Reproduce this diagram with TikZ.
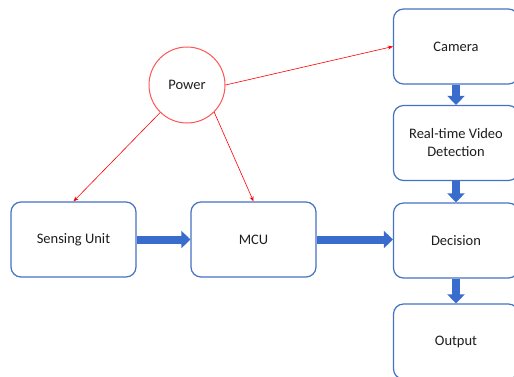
\documentclass[tikz,border=0pt]{standalone}
\usepackage{fontspec}
\setmainfont{Carlito}
\usetikzlibrary{arrows.meta}
\definecolor{boxblue}{RGB}{68,114,196}
\definecolor{arrblue}{RGB}{58,108,205}
\definecolor{pred}{RGB}{255,85,85}
\definecolor{txt}{RGB}{30,30,30}
\begin{document}
\begin{tikzpicture}[x=1pt,y=-1pt,
  font=\fontsize{14.5}{18}\selectfont,
  block/.style={draw=boxblue, line width=1.2pt, rounded corners=10pt,
    minimum width=125pt, minimum height=75pt, inner sep=0pt,
    align=center, text=txt, fill=white},
  pcircle/.style={circle, draw=pred, line width=1pt, minimum size=76pt,
    inner sep=0pt, text=txt},
  bigarrow/.style={draw=arrblue, line width=8pt,
    -{Triangle[length=9pt,width=17pt]}, shorten >=0pt},
  redarrow/.style={draw=red, line width=0.6pt,
    -{Stealth[length=5pt,width=4pt]}}]
\useasboundingbox (0,0) rectangle (514,376);
\clip (0,0) rectangle (514,376);
\node[pcircle] (power) at (187,85) {Power};
\node[block] (sense) at (73.5,239.5) {Sensing Unit};
\node[block] (mcu) at (253.5,239.5) {MCU};
\node[block] (camera) at (456,46.5) {Camera};
\node[block] (rtvd) at (456,143) {Real-time Video\\Detection};
\node[block] (decision) at (456,240.5) {Decision};
\node[block] (output) at (456,341.5) {Output};
\draw[bigarrow] (sense.east) -- (mcu.west);
\draw[bigarrow] (mcu.east) -- (decision.west |- mcu.east);
\draw[bigarrow] (camera.south) -- (rtvd.north);
\draw[bigarrow] (rtvd.south) -- (decision.north);
\draw[bigarrow] (decision.south) -- (output.north);
\draw[redarrow] (power) -- (sense.north);
\draw[redarrow] (power.-45) -- (mcu.north);
\draw[redarrow] (power.east) -- (camera.west);
\end{tikzpicture}
\end{document}
